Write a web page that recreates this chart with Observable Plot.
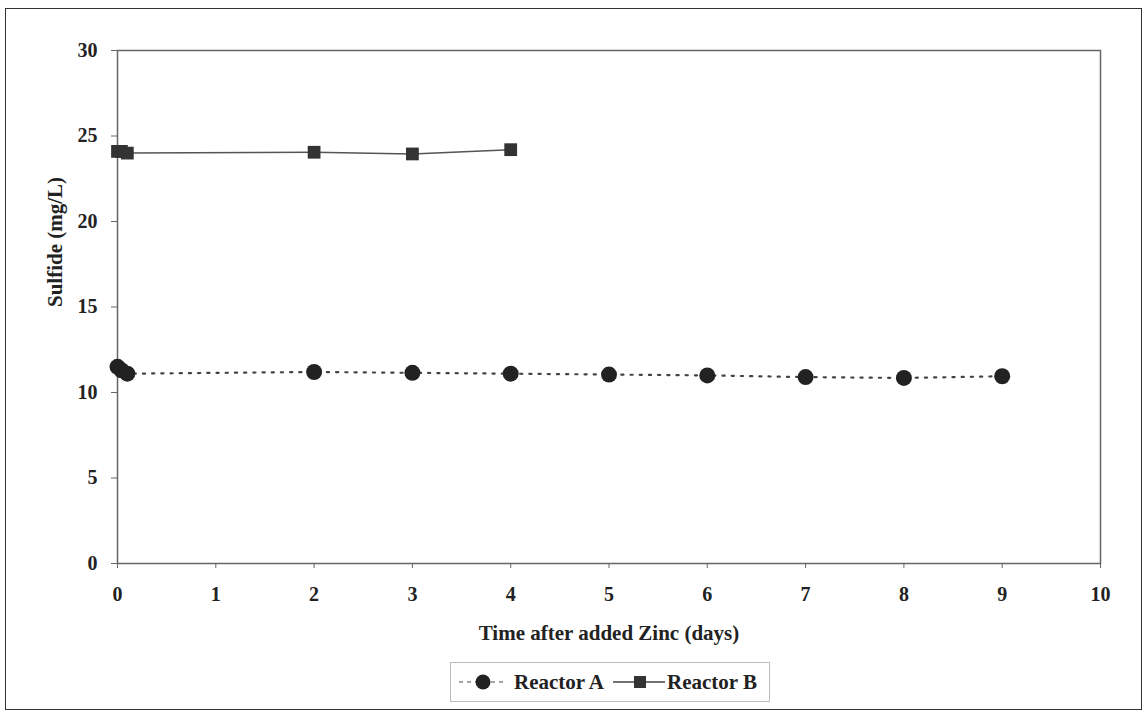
<!DOCTYPE html>
<html>
<head>
<meta charset="utf-8">
<script src="https://cdn.jsdelivr.net/npm/d3@7"></script>
<script src="https://cdn.jsdelivr.net/npm/@observablehq/plot@0.6"></script>
<style>
  html, body { margin: 0; padding: 0; background: #fff; }
  body { width: 1147px; height: 718px; position: relative; overflow: hidden; font-family: "Liberation Serif", "DejaVu Serif", serif; }
  #frame { position: absolute; left: 5px; top: 8px; width: 1137px; height: 702px; border: 1.5px solid #333; box-sizing: border-box; }
  #chart { position: absolute; left: 0; top: 0; }
  #legend { position: absolute; left: 450px; top: 662px; width: 320px; height: 40px; border: 1px solid #bbb; box-sizing: border-box; background: #fff; }
</style>
</head>
<body>
<div id="frame"></div>
<div id="chart"></div>
<div id="legend"></div>
<script>
const seriesNames = ["Reactor A", "Reactor B"];
const daysA = [0, 0.04, 0.1, 2, 3, 4, 5, 6, 7, 8, 9];
const sulfideA = [11.5, 11.3, 11.1, 11.2, 11.15, 11.1, 11.05, 11.0, 10.9, 10.85, 10.95];
const daysB = [0, 0.04, 0.1, 2, 3, 4];
const sulfideB = [24.1, 24.1, 24.0, 24.05, 23.95, 24.2];
const xTicks = [0, 1, 2, 3, 4, 5, 6, 7, 8, 9, 10];
const yTicks = [0, 5, 10, 15, 20, 25, 30];

const dataA = daysA.map((d, i) => ({day: d, value: sulfideA[i]}));
const dataB = daysB.map((d, i) => ({day: d, value: sulfideB[i]}));

const chart = Plot.plot({
  width: 1147,
  height: 620,
  marginLeft: 117,
  marginRight: 47,
  marginTop: 50,
  marginBottom: 57,
  style: {fontFamily: "Liberation Serif", fontWeight: "bold", fontSize: "20px", color: "#222", background: "transparent", overflow: "visible"},
  x: {domain: [0, 10]},
  y: {domain: [0, 30]},
  marks: [
    Plot.frame({stroke: "#666", strokeWidth: 1.5}),
    Plot.axisX({ticks: xTicks, tickSize: 5, tickPadding: 18, stroke: "#666", fontSize: 20, fontWeight: "bold", label: null}),
    Plot.axisY({ticks: yTicks, tickSize: 6, tickPadding: 14, stroke: "#666", fontSize: 20, fontWeight: "bold", label: null}),
    Plot.text([seriesNames[0]], {frameAnchor: "bottom", dy: 76, text: () => "Time after added Zinc (days)", fontSize: 21, fontWeight: "bold", fill: "#222"}),
    Plot.text([seriesNames[0]], {frameAnchor: "left", dx: -62, rotate: -90, text: () => "Sulfide (mg/L)", fontSize: 21, fontWeight: "bold", fill: "#222"}),
    Plot.line(dataA, {x: "day", y: "value", stroke: "#444", strokeWidth: 2.2, strokeDasharray: "2.2,7"}),
    Plot.line(dataB, {x: "day", y: "value", stroke: "#555", strokeWidth: 1.5}),
    Plot.dot(dataA, {x: "day", y: "value", r: 8, fill: "#222", symbol: "circle"}),
    Plot.dot(dataB, {x: "day", y: "value", r: 7.2, fill: "#333", symbol: "square"})
  ]
});
document.getElementById("chart").appendChild(chart);
chart.querySelectorAll("text").forEach(t => { t.style.fontWeight = "bold"; });

// legend
const lg = d3.select("#legend").append("svg").attr("width", 318).attr("height", 38)
  .style("font-family", "Liberation Serif").style("font-weight", "bold").style("font-size", "21px");
lg.append("line").attr("x1", 8).attr("x2", 56).attr("y1", 19).attr("y2", 19).attr("stroke", "#888").attr("stroke-width", 1.5).attr("stroke-dasharray", "4,4");
lg.append("circle").attr("cx", 32).attr("cy", 19).attr("r", 7.5).attr("fill", "#222");
lg.append("text").attr("x", 63).attr("y", 26).attr("fill", "#222").text(seriesNames[0]);
lg.append("line").attr("x1", 162).attr("x2", 214).attr("y1", 19).attr("y2", 19).attr("stroke", "#444").attr("stroke-width", 1.5);
lg.append("rect").attr("x", 183).attr("y", 13).attr("width", 12).attr("height", 12).attr("fill", "#333");
lg.append("text").attr("x", 216).attr("y", 26).attr("fill", "#222").text(seriesNames[1]);
</script>
</body>
</html>
